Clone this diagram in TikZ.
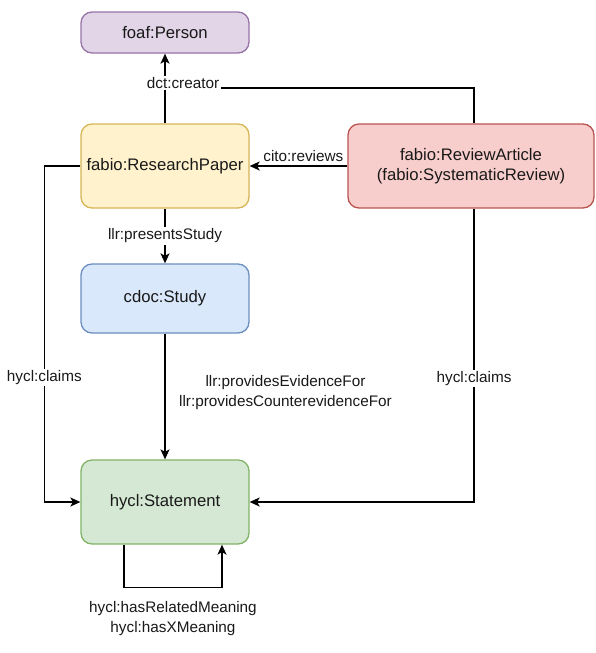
\documentclass[tikz,border=0pt]{standalone}
\usepackage{fontspec}
\setmainfont{Liberation Sans}
\usetikzlibrary{arrows, arrows.meta, positioning, calc}

\definecolor{personfill}{HTML}{E1D5E7}
\definecolor{persondraw}{HTML}{9673A6}
\definecolor{paperfill}{HTML}{FFF2CC}
\definecolor{paperdraw}{HTML}{D6B656}
\definecolor{reviewfill}{HTML}{F8CECC}
\definecolor{reviewdraw}{HTML}{B85450}
\definecolor{studyfill}{HTML}{DAE8FC}
\definecolor{studydraw}{HTML}{6C8EBF}
\definecolor{stmtfill}{HTML}{D5E8D4}
\definecolor{stmtdraw}{HTML}{82B366}

\tikzset{
  klass/.style={rectangle, rounded corners=11pt, line width=1.3pt, minimum width=168pt,
    align=center, font=\fontsize{16.7}{20}\selectfont, text=black!90},
  rel/.style={font=\fontsize{15.3}{20}\selectfont, fill=white, inner sep=1.5pt, text=black!90, align=center},
}

\begin{document}
\begin{tikzpicture}[x=1pt,y=-1pt,>={Stealth[length=10pt, width=9pt, inset=2.5pt]}, line width=1.4pt]
\useasboundingbox (0,0) rectangle (595,653);
% The classes
\node (person) at (165,32.5) [klass, fill=personfill, draw=persondraw, minimum height=41pt] {foaf:Person};
\node (paper) at (165,166) [klass, fill=paperfill, draw=paperdraw, minimum height=84pt] {fabio:ResearchPaper};
\node (review) at (471,166) [klass, fill=reviewfill, draw=reviewdraw, minimum height=84pt, minimum width=246pt] {fabio:ReviewArticle\\(fabio:SystematicReview)};
\node (study) at (165,298.5) [klass, fill=studyfill, draw=studydraw, minimum height=69pt] {cdoc:Study};
\node (stmt) at (165,502) [klass, fill=stmtfill, draw=stmtdraw, minimum height=84pt] {hycl:Statement};
% The relations
\coordinate (join) at (165,88);
\draw ([xshift=3pt]review.north) |- (join);
\draw [->] (paper) -- (person) node[rel, pos=0.58, xshift=18pt] {dct:creator};
\draw [->] (review) -- (paper) node[pos=0.45, above, font=\fontsize{15.3}{20}\selectfont, text=black!90] {cito:reviews};
\draw [->] (paper) -- (study) node[rel, midway] {llr:presentsStudy};
\draw [->] (paper.west) -- ++(-36,0) |- (stmt.west) node[rel, pos=0.315] {hycl:claims};
\draw [->] ([xshift=3pt]review.south) |- (stmt.east) node[rel, pos=0.29] {hycl:claims};
\draw [->] (study) -- (stmt) node[rel, pos=0.47, right=12pt] {llr:providesEvidenceFor\\llr:providesCounterevidenceFor};
\draw [->] ([xshift=-41pt]stmt.south) -- ++(0,43) -| ([xshift=57pt]stmt.south) node[rel, pos=0.25, below=12pt] {hycl:hasRelatedMeaning\\hycl:hasXMeaning};
\end{tikzpicture}
\end{document}
